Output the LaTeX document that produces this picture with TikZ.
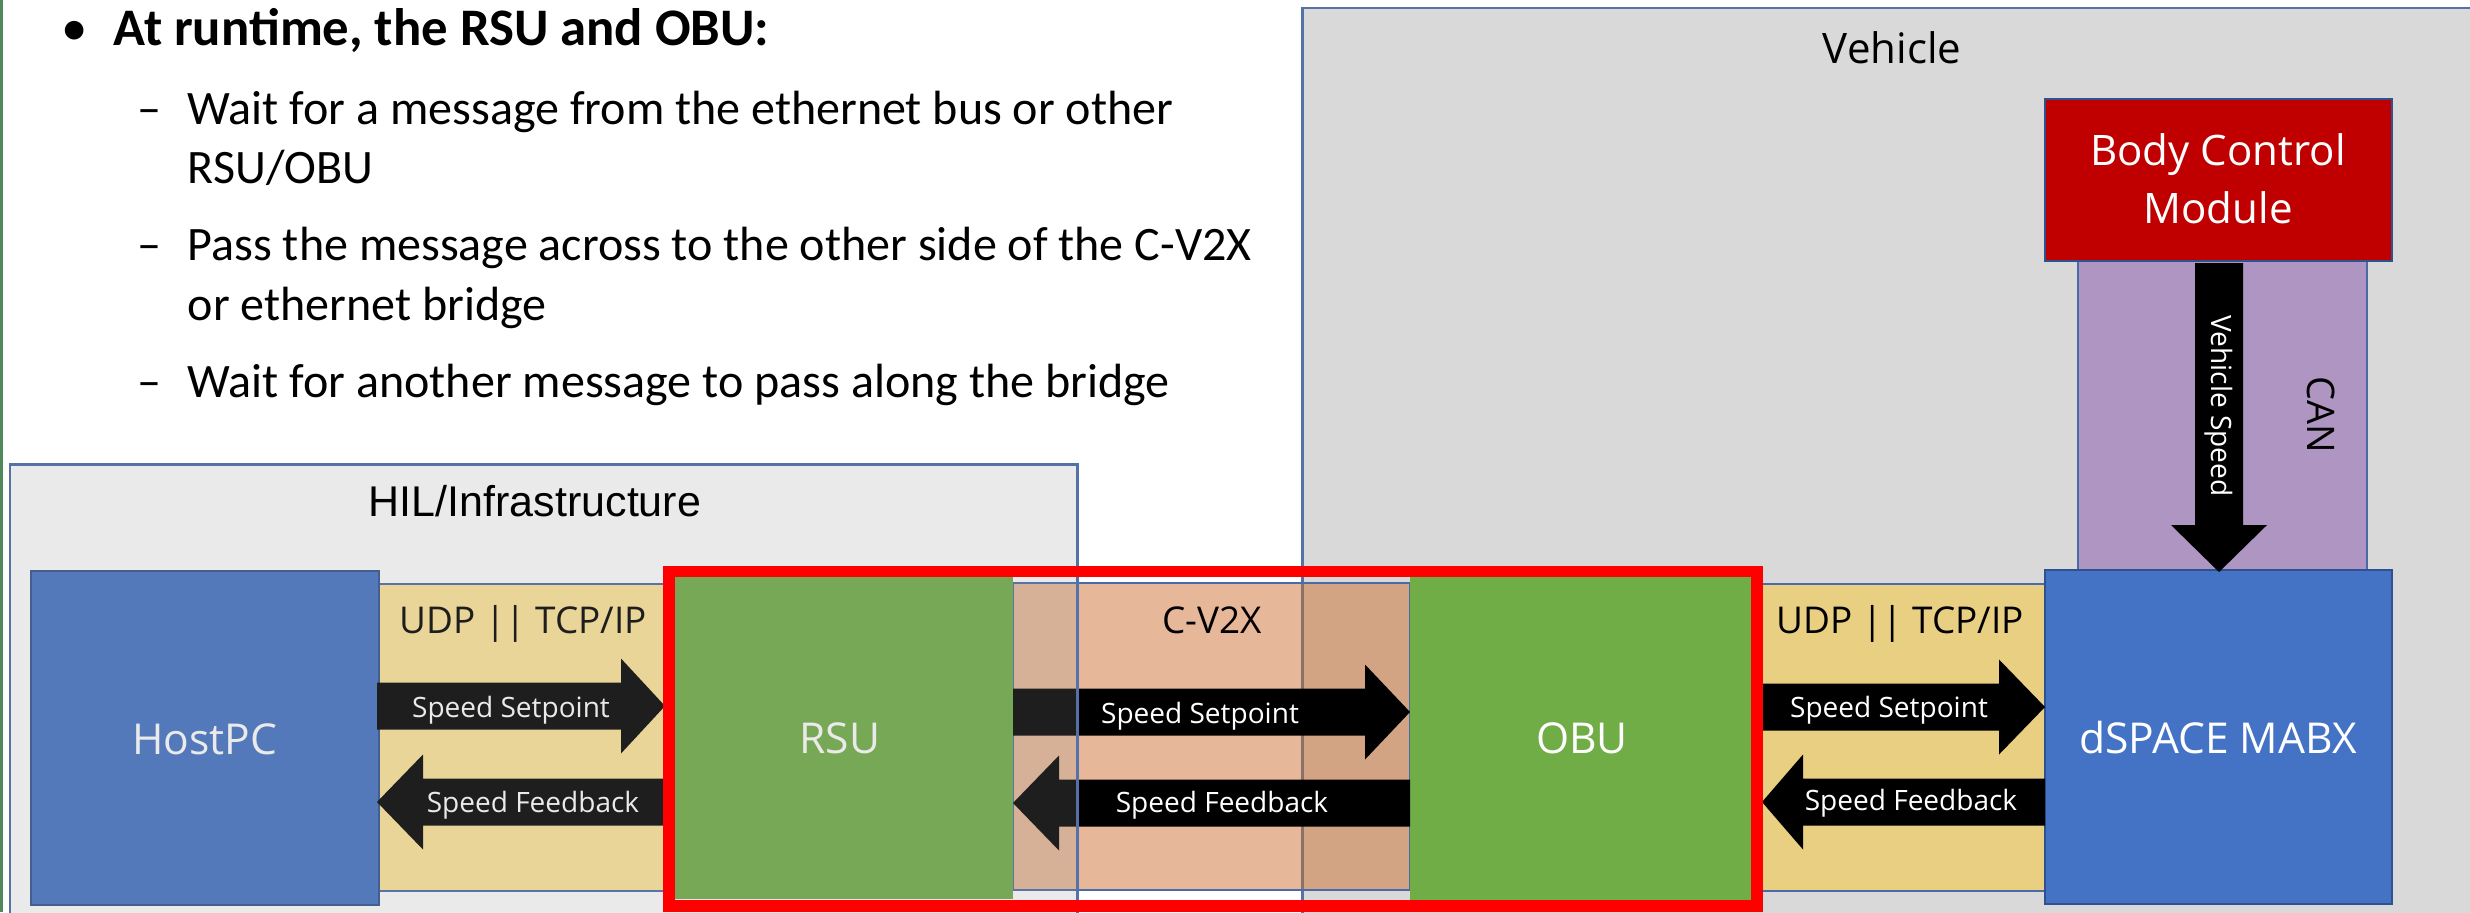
\documentclass[tikz,border=0pt]{standalone}
\usepackage{fontspec}
\setmainfont{Carlito}
\newfontfamily\osans{Open Sans}
\newfontfamily\lsans{Liberation Sans}
\usetikzlibrary{fit}

\definecolor{vehgrey}{HTML}{D9D9D9}
\definecolor{outline}{HTML}{2F528F}
\definecolor{frameline}{HTML}{5472A8}
\definecolor{bandline}{HTML}{4A6BA8}
\definecolor{blockblue}{HTML}{4472C4}
\definecolor{bcmred}{HTML}{C00000}
\definecolor{unitgreen}{HTML}{70AD47}
\definecolor{goldband}{HTML}{FFC000}
\definecolor{orangeband}{RGB}{204,110,45}
\definecolor{canpurple}{HTML}{7030A0}
\definecolor{hilshade}{RGB}{150,150,150}
\definecolor{slidegreen}{HTML}{4E8A5E}
\definecolor{bridgered}{HTML}{FF0000}

% horizontal block arrow: tail x, head-base x, tip x, centre y
\newcommand\blockarrow[4]{%
  \fill[flowarrow] (#1,#4-23.5) -- (#2,#4-23.5) -- (#2,#4-47.5) -- (#3,#4)
    -- (#2,#4+47.5) -- (#2,#4+23.5) -- (#1,#4+23.5) -- cycle;}

\begin{document}
\begin{tikzpicture}[x=0.01cm, y=-0.01cm,
  outlined/.style={draw=outline, line width=0.7pt, inner sep=0pt},
  container/.style={draw=frameline, line width=0.85pt, inner sep=0pt},
  bandbox/.style={draw=bandline, line width=0.45pt, inner sep=0pt},
  flowarrow/.style={fill=black},
  arrowlabel/.style={anchor=base, inner sep=0pt, text=white,
    font=\osans\fontsize{7.97}{9.5}\selectfont},
  unitlabel/.style={anchor=base, inner sep=0pt, text=white,
    font=\osans\fontsize{12.1}{14.5}\selectfont},
  buslabel/.style={anchor=base, inner sep=0pt,
    font=\osans\fontsize{10.5}{12.5}\selectfont},
  bodytext/.style={anchor=base west, inner sep=0pt,
    font=\fontsize{13.66}{16}\selectfont},
]
\useasboundingbox (0,0) rectangle (2470,912);
\clip (0,0) rectangle (2470,912);
\fill[white] (0,0) rectangle (2470,912);
\fill[slidegreen] (0,0) rectangle (3,912);

% vehicle side
\node[container, fill=vehgrey, fit={(1302,8) (2600,1000)}] (vehicle) {};
\node[anchor=base, inner sep=0pt, font=\osans\fontsize{11.95}{14}\selectfont]
  (vehlabel) at (1892,63) {Vehicle};

\node[bandbox, fill=canpurple, fill opacity=0.4, fit={(2078,261) (2367,570)}] (can) {};
\node[outlined, fill=bcmred, fit={(2045,99) (2392,261)}] (bcm) {};
\node[unitlabel, font=\osans\fontsize{11.95}{14}\selectfont] (bcm1) at (2218,165) {Body Control};
\node[unitlabel, font=\osans\fontsize{11.95}{14}\selectfont] (bcm2) at (2218,223) {Module};

% links between the units
\node[bandbox, fill=goldband, fill opacity=0.4, fit={(379,584) (665,891)}] (udpleft) {};
\node[bandbox, fill=orangeband, fill opacity=0.49, fit={(1013,583) (1410,890)}] (cv2x) {};
\node[bandbox, fill=goldband, fill opacity=0.4, fit={(1762,584) (2045,891)}] (udpright) {};

% units
\node[outlined, fill=blockblue, fit={(31,571) (379,905)}] (hostpc) {};
\node[inner sep=0pt, fill=unitgreen, fit={(675,577) (1013,899)}] (rsu) {};
\node[inner sep=0pt, fill=unitgreen, fit={(1410,577) (1751,900)}] (obu) {};
\node[outlined, fill=blockblue, fit={(2045,570) (2392,904)}] (mabx) {};

% CAN message
\fill[flowarrow] (2195,263) -- (2195,525) -- (2171,525) -- (2219,572)
  -- (2267,525) -- (2243,525) -- (2243,263) -- cycle;
\node[rotate=-90, inner sep=0pt, text=white, font=\osans\fontsize{7.97}{9.5}\selectfont]
  (vspeed) at (2219,406) {Vehicle Speed};
\node[rotate=-90, inner sep=0pt, font=\osans\fontsize{10.8}{12}\selectfont]
  (canlabel) at (2321,415) {CAN};

% messages
\blockarrow{377}{621}{665}{706}
\blockarrow{665}{423}{377}{802}
\blockarrow{1013}{1365}{1410}{712}
\blockarrow{1410}{1059}{1013}{803}
\blockarrow{1762}{1999}{2045}{707}
\blockarrow{2045}{1803}{1762}{802}

\node[arrowlabel] (sp1) at (511,717) {Speed Setpoint};
\node[arrowlabel] (fb1) at (533,812) {Speed Feedback};
\node[arrowlabel] (sp2) at (1200,723) {Speed Setpoint};
\node[arrowlabel] (fb2) at (1222,812) {Speed Feedback};
\node[arrowlabel] (sp3) at (1889,717) {Speed Setpoint};
\node[arrowlabel] (fb3) at (1911,810) {Speed Feedback};

\node[buslabel] (udp1) at (523,633) {UDP || TCP/IP};
\node[buslabel] (radio) at (1212,633) {C-V2X};
\node[buslabel] (udp2) at (1900,633) {UDP || TCP/IP};

\node[unitlabel] (hostlabel) at (205,754) {HostPC};
\node[unitlabel] (rsulabel) at (840,753) {RSU};
\node[unitlabel] (obulabel) at (1582,753) {OBU};
\node[unitlabel] (mabxlabel) at (2218,753) {dSPACE MABX};

% infrastructure side, shaded over its contents
\node[container, fill=hilshade, fill opacity=0.2, fit={(10,464) (1077,1000)}] (hil) {};
\node[anchor=base, inner sep=0pt, font=\lsans\fontsize{12.23}{14}\selectfont]
  (hillabel) at (535,516) {HIL/Infrastructure};

% RSU/OBU bridge frame
\node[draw=bridgered, line width=3.27pt, inner sep=0pt, fit={(669,571.5) (1757,906)}] (bridge) {};

% notes
\node[anchor=base, inner sep=0pt, font=\fontsize{15}{17}\selectfont] (bul) at (75,45) {\textbullet};
\node[anchor=base west, inner sep=0pt, font=\fontsize{15}{17}\selectfont\bfseries]
  (title) at (113,45) {At runtime, the RSU and OBU:};
\node[bodytext] (d1) at (137,124) {–};
\node[bodytext] (l1) at (187,124) {Wait for a message from the ethernet bus or other};
\node[bodytext] (l2) at (187,183) {RSU/OBU};
\node[bodytext] (d2) at (137,260) {–};
\node[bodytext] (l3) at (187,260) {Pass the message across to the other side of the C-V2X};
\node[bodytext] (l4) at (187,320) {or ethernet bridge};
\node[bodytext] (d3) at (137,397) {–};
\node[bodytext] (l5) at (187,397) {Wait for another message to pass along the bridge};
\end{tikzpicture}
\end{document}
